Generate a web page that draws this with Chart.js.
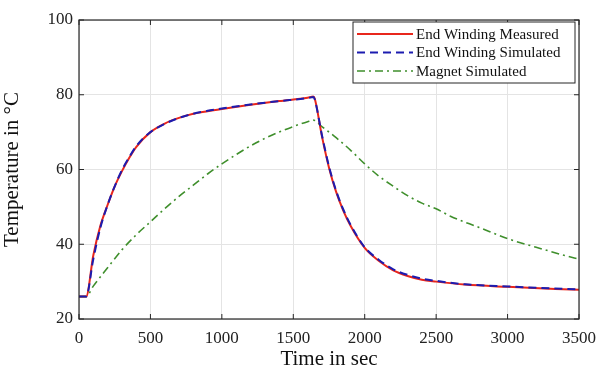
<!DOCTYPE html>
<html lang="en">
<head>
    <meta charset="UTF-8">
    <title>Temperature vs Time</title>
    <script src="https://cdn.jsdelivr.net/npm/chart.js"></script>
    <style>
        body { margin: 0; background: #fff; }
        .chart-box { width: 608px; height: 372px; }
    </style>
</head>
<body>
    <div class="chart-box">
        <canvas id="tempChart"></canvas>
    </div>

    <script>
        // data
        const windingTime = [0, 50, 100, 150, 200, 250, 300, 350, 400, 500, 600, 700, 800, 900, 1000, 1200, 1400, 1600, 1640,
            1650, 1700, 1750, 1800, 1850, 1900, 2000, 2100, 2200, 2300, 2400, 2500, 2700, 3000, 3500];
        const windingMeasured = [26, 26, 37, 45, 50.5, 55.5, 59.5, 63, 66, 70, 72.3, 73.8, 74.9, 75.6, 76.2, 77.3, 78.3, 79.2, 79.5,
            79, 69, 60.5, 54, 49, 45, 39, 35.5, 33, 31.5, 30.5, 30, 29.2, 28.6, 27.8];
        const windingSimulated = [26, 26, 36, 44.5, 50.5, 55.5, 59.8, 63.2, 66.2, 70, 72.2, 73.8, 74.9, 75.7, 76.3, 77.4, 78.3, 79.1, 79.4,
            78.8, 69.3, 60.8, 54.3, 49.3, 45.3, 39.2, 35.8, 33.3, 31.8, 30.8, 30.2, 29.3, 28.7, 27.9];

        const magnetTime = [0, 50, 100, 200, 300, 400, 500, 600, 700, 800, 900, 1000, 1100, 1200, 1300, 1400, 1500, 1600, 1640,
            1700, 1800, 1900, 2000, 2100, 2200, 2300, 2400, 2500, 2600, 2800, 3000, 3200, 3400, 3500];
        const magnetSimulated = [26, 26, 28.8, 33.7, 38.5, 42.5, 46, 49.5, 52.8, 55.8, 58.8, 61.5, 64, 66.3, 68.3, 70, 71.5, 72.8, 73.2,
            71.5, 68.5, 65.2, 61.5, 58.2, 55.5, 53, 51, 49.5, 47.5, 44.5, 41.5, 39.2, 37, 36];

        const seriesLabels = ['End Winding Measured', 'End Winding Simulated', 'Magnet Simulated'];
        const xTicks = [0, 500, 1000, 1500, 2000, 2500, 3000, 3500];
        const yTicks = [20, 40, 60, 80, 100];

        const serif = "'Liberation Serif', 'DejaVu Serif', serif";

        function toPoints(xs, ys) {
            return xs.map((x, i) => ({ x: x, y: ys[i] }));
        }

        // box round the plot plus matlab style inward ticks
        const boxPlugin = {
            id: 'boxPlugin',
            afterDatasetsDraw(chart) {
                const { ctx, chartArea: a, scales } = chart;
                ctx.save();
                ctx.strokeStyle = '#262626';
                ctx.lineWidth = 1.2;
                ctx.strokeRect(a.left, a.top, a.right - a.left, a.bottom - a.top);
                ctx.lineWidth = 1;
                xTicks.forEach(v => {
                    const px = scales.x.getPixelForValue(v);
                    ctx.beginPath();
                    ctx.moveTo(px, a.bottom); ctx.lineTo(px, a.bottom - 5);
                    ctx.moveTo(px, a.top); ctx.lineTo(px, a.top + 5);
                    ctx.stroke();
                });
                yTicks.forEach(v => {
                    const py = scales.y.getPixelForValue(v);
                    ctx.beginPath();
                    ctx.moveTo(a.left, py); ctx.lineTo(a.left + 5, py);
                    ctx.moveTo(a.right, py); ctx.lineTo(a.right - 5, py);
                    ctx.stroke();
                });
                ctx.restore();
            }
        };

        // legend drawn inside the plot, top right
        const insideLegend = {
            id: 'insideLegend',
            afterDraw(chart) {
                const { ctx, chartArea: a } = chart;
                const w = 222, h = 61;
                const x0 = a.right - w - 4, y0 = a.top + 2;
                ctx.save();
                ctx.fillStyle = '#fff';
                ctx.fillRect(x0, y0, w, h);
                ctx.strokeStyle = '#262626';
                ctx.lineWidth = 1;
                ctx.strokeRect(x0, y0, w, h);
                ctx.font = '15px ' + serif;
                ctx.textBaseline = 'middle';
                chart.data.datasets.forEach((ds, i) => {
                    const y = y0 + 12 + i * 18.5;
                    ctx.strokeStyle = ds.borderColor;
                    ctx.lineWidth = ds.borderWidth;
                    ctx.setLineDash(ds.borderDash || []);
                    ctx.beginPath();
                    ctx.moveTo(x0 + 4, y);
                    ctx.lineTo(x0 + 60, y);
                    ctx.stroke();
                    ctx.setLineDash([]);
                    ctx.fillStyle = '#111';
                    ctx.fillText(ds.label, x0 + 63, y + 1);
                });
                ctx.restore();
            }
        };

        new Chart(document.getElementById('tempChart'), {
            type: 'line',
            data: {
                datasets: [{
                    label: seriesLabels[0],
                    data: toPoints(windingTime, windingMeasured),
                    borderColor: '#e8261c',
                    borderWidth: 2,
                    pointRadius: 0,
                    cubicInterpolationMode: 'monotone',
                    order: 2
                }, {
                    label: seriesLabels[1],
                    data: toPoints(windingTime, windingSimulated),
                    borderColor: '#1c1cb0',
                    borderWidth: 2,
                    borderDash: [8, 5],
                    pointRadius: 0,
                    cubicInterpolationMode: 'monotone',
                    order: 1
                }, {
                    label: seriesLabels[2],
                    data: toPoints(magnetTime, magnetSimulated),
                    borderColor: '#3f8f2c',
                    borderWidth: 1.6,
                    borderDash: [8, 4, 2, 4],
                    pointRadius: 0,
                    cubicInterpolationMode: 'monotone',
                    order: 3
                }]
            },
            options: {
                responsive: true,
                maintainAspectRatio: false,
                animation: false,
                layout: { padding: { left: 0, right: 29, top: 20, bottom: 0 } },
                plugins: {
                    legend: { display: false },
                    tooltip: { enabled: false }
                },
                scales: {
                    x: {
                        type: 'linear',
                        min: 0,
                        max: 3500,
                        afterBuildTicks: s => { s.ticks = xTicks.map(v => ({ value: v })); },
                        afterFit: s => { s.height = 53; },
                        grid: { color: '#e4e4e4', drawTicks: false },
                        border: { display: false },
                        ticks: {
                            font: { family: serif, size: 17 },
                            color: '#222',
                            padding: 9,
                            maxRotation: 0,
                            callback: v => String(v)
                        },
                        title: {
                            display: true,
                            text: 'Time in sec',
                            font: { family: serif, size: 21 },
                            color: '#111',
                            padding: { top: 0, bottom: 0 }
                        }
                    },
                    y: {
                        min: 20,
                        max: 100,
                        afterBuildTicks: s => { s.ticks = yTicks.map(v => ({ value: v })); },
                        afterFit: s => { s.width = 79; },
                        grid: { color: '#e4e4e4', drawTicks: false },
                        border: { display: false },
                        ticks: { font: { family: serif, size: 17 }, color: '#222', padding: 6 },
                        title: {
                            display: true,
                            text: 'Temperature in \u00B0C',
                            font: { family: serif, size: 21 },
                            color: '#111',
                            padding: { top: 0, bottom: 4 }
                        }
                    }
                }
            },
            plugins: [boxPlugin, insideLegend]
        });
    </script>
</body>
</html>
